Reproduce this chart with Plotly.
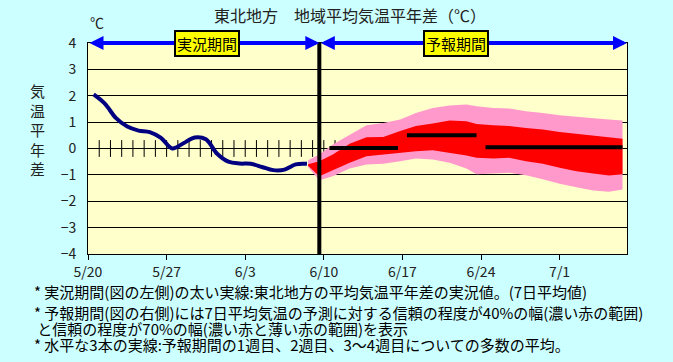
import plotly.graph_objects as go

# ---- data ----
tick_days = [0, 7, 14, 21, 28, 35, 42]
tick_labels = ["5/20", "5/27", "6/3", "6/10", "6/17", "6/24", "7/1"]

obs_days = [0.5, 1.5, 2.5, 3.5, 4.5, 5.5, 6.5, 7.5, 8.5, 9.5,
            10.5, 11.5, 12.5, 13.5, 14.5, 15.5, 16.5, 17.5, 18.5, 19.5]
obs_vals = [2.05, 1.7, 1.15, 0.83, 0.68, 0.62, 0.4, 0.0, 0.2, 0.42,
            0.35, -0.2, -0.5, -0.57, -0.58, -0.7, -0.82, -0.8, -0.6, -0.58]

band_days = [19.6, 20.6, 21.8, 23.3, 24.8, 26.3, 27.8, 29.2, 30.7, 32.2, 33.7,
             34.6, 36.1, 37.5, 39.0, 40.5, 42.0, 43.5, 45.0, 46.4, 47.6]
pink_top = [-0.45, -0.23, 0.15, 0.53, 0.88, 0.97, 1.1, 1.35, 1.54, 1.63, 1.67,
            1.6, 1.54, 1.52, 1.41, 1.35, 1.26, 1.2, 1.16, 1.1, 1.06]
red_top = [-0.6, -0.48, -0.23, 0.18, 0.43, 0.44, 0.66, 0.85, 0.95, 1.06, 1.03,
           0.93, 0.88, 0.85, 0.78, 0.72, 0.63, 0.56, 0.48, 0.43, 0.37]
red_bot = [-0.65, -1.05, -0.83, -0.54, -0.29, -0.23, -0.16, -0.1, -0.07, -0.16, -0.27,
           -0.35, -0.38, -0.35, -0.48, -0.58, -0.73, -0.86, -0.95, -1.02, -0.98]
pink_bot = [-0.7, -1.2, -1.05, -0.76, -0.61, -0.58, -0.48, -0.38, -0.42, -0.54, -0.76,
            -0.98, -0.96, -0.92, -1.01, -1.17, -1.34, -1.47, -1.59, -1.64, -1.55]

# weekly means: (start day, end day, value)
mean_starts = [21.5, 28.4, 35.4]
mean_ends = [27.6, 34.6, 47.6]
mean_vals = [0.02, 0.5, 0.05]

minor_days = list(range(1, 48))
split_day = 20.6

title = "東北地方　地域平均気温平年差（℃）"
notes = [
    "* 実況期間(図の左側)の太い実線:東北地方の平均気温平年差の実況値。(7日平均値)",
    "* 予報期間(図の右側)には7日平均気温の予測に対する信頼の程度が40%の幅(濃い赤の範囲)",
    "&nbsp;と信頼の程度が70%の幅(濃い赤と薄い赤の範囲)を表示",
    "* 水平な3本の実線:予報期間の1週目、2週目、3～4週目についての多数の平均。",
]

FONT = "Noto Sans CJK JP"
fig = go.Figure()

# daily ticks on zero line
fig.add_trace(go.Scatter(
    x=minor_days, y=[0] * len(minor_days), mode="markers",
    marker=dict(symbol="line-ns", size=12, line=dict(color="black", width=1)),
    hoverinfo="skip", showlegend=False))

# outer (70%) band
fig.add_trace(go.Scatter(x=band_days + band_days[::-1], y=pink_top + pink_bot[::-1],
                         fill="toself", fillcolor="#FF99CC", line=dict(width=0),
                         mode="lines", showlegend=False, hoverinfo="skip"))
# inner (40%) band
fig.add_trace(go.Scatter(x=band_days + band_days[::-1], y=red_top + red_bot[::-1],
                         fill="toself", fillcolor="#FF0000", line=dict(width=0),
                         mode="lines", showlegend=False, hoverinfo="skip"))

# weekly mean lines
for s, e, v in zip(mean_starts, mean_ends, mean_vals):
    fig.add_trace(go.Scatter(x=[s, e], y=[v, v], mode="lines",
                             line=dict(color="black", width=4),
                             showlegend=False, hoverinfo="skip"))

# observed line
fig.add_trace(go.Scatter(x=obs_days, y=obs_vals, mode="lines",
                         line=dict(color="#000080", width=4, shape="spline"),
                         showlegend=False, hoverinfo="skip"))

# vertical split line
fig.add_shape(type="line", x0=split_day, x1=split_day, y0=-4, y1=4,
              xref="x", yref="y", line=dict(color="black", width=4))

# arrows
for x0, x1 in [(0, split_day), (split_day, 48)]:
    fig.add_annotation(x=x1, y=4, ax=x0, ay=4, xref="x", yref="y", axref="x", ayref="y",
                       showarrow=True, arrowhead=2, arrowside="end+start",
                       arrowsize=0.7, arrowwidth=4, arrowcolor="#0000FF", text="")

fig.add_annotation(x=10.6, y=4, xref="x", yref="y", text="実況期間", showarrow=False,
                   yanchor="middle",
                   bgcolor="#FFFF00", bordercolor="black", borderwidth=2, borderpad=1,
                   font=dict(family=FONT, size=15, color="black"))
fig.add_annotation(x=32.8, y=4, xref="x", yref="y", text="予報期間", showarrow=False,
                   yanchor="middle",
                   bgcolor="#FFFF00", bordercolor="black", borderwidth=2, borderpad=1,
                   font=dict(family=FONT, size=15, color="black"))

# title and labels
fig.add_annotation(x=0.486, y=1.133, xref="paper", yref="paper", text=title,
                   showarrow=False, yanchor="middle", xanchor="center",
                   font=dict(family=FONT, size=16, color="#222"))
fig.add_annotation(x=0.017, y=1.10, xref="paper", yref="paper", text="℃",
                   showarrow=False, yanchor="middle", xanchor="center",
                   font=dict(family=FONT, size=14, color="#222"))
fig.add_annotation(x=-0.093, y=0.588, xref="paper", yref="paper",
                   text="気<br>温<br>平<br>年<br>差", showarrow=False,
                   yanchor="middle", xanchor="center",
                   font=dict(family=FONT, size=15, color="#222"))

# footnotes: first line alone, the other three as one block with tight spacing
fig.add_annotation(x=-0.1040, y=-0.180, xref="paper", yref="paper", text=notes[0],
                   showarrow=False, xanchor="left", yanchor="middle", align="left",
                   font=dict(family=FONT, size=15, color="black"))
block = "<br>".join('<span style="font-size:15px">' + t + "</span>" for t in notes[1:])
fig.add_annotation(x=-0.1040, y=-0.351, xref="paper", yref="paper", text=block,
                   showarrow=False, xanchor="left", yanchor="middle", align="left",
                   font=dict(family=FONT, size=12.3, color="black"))

fig.update_layout(
    width=673, height=362,
    margin=dict(l=88, r=46, t=43, b=108),
    paper_bgcolor="#CCFFFF", plot_bgcolor="#FFFFCC",
    font=dict(family=FONT, size=14, color="#222"),
    xaxis=dict(range=[0, 48], tickvals=tick_days, ticktext=tick_labels,
               showgrid=False, zeroline=False, showline=True, linecolor="black",
               linewidth=1, mirror=True, ticks="outside", ticklen=5,
               tickcolor="black", tickfont=dict(size=14)),
    yaxis=dict(range=[-4, 4], dtick=1, showgrid=True, gridcolor="black", gridwidth=1,
               zeroline=True, zerolinecolor="black", zerolinewidth=1,
               showline=True, linecolor="black", linewidth=1, mirror=True,
               ticks="", ticklabelstandoff=8, tickfont=dict(size=14)),
)

fig.write_html("out.html", config={"displayModeBar": False},
               post_script="document.body.style.margin='0';"
                           "document.body.style.backgroundColor='#CCFFFF';")
